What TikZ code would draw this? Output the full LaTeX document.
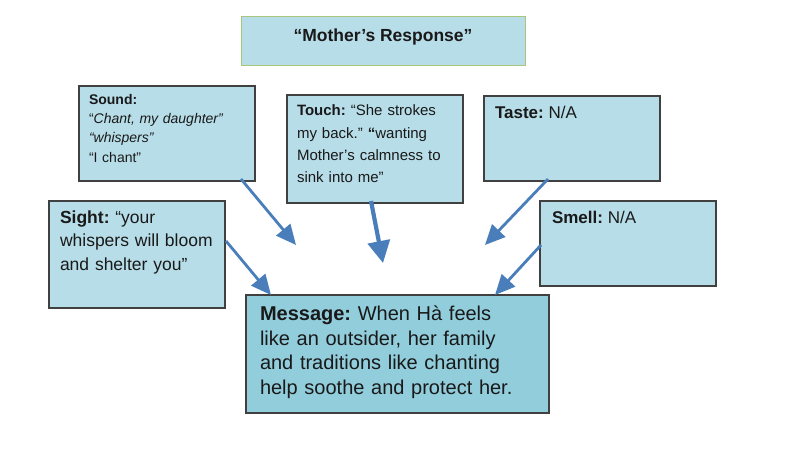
\documentclass[tikz,border=0pt]{standalone}
\usepackage{fontspec}
\setmainfont{Liberation Sans}
\usetikzlibrary{arrows.meta}
\definecolor{boxfill}{HTML}{B7DDE8}
\definecolor{msgfill}{HTML}{92CDDC}
\definecolor{boxline}{HTML}{404040}
\definecolor{titleline}{HTML}{A9C77A}
\definecolor{arrowblue}{HTML}{4A7EBB}
\tikzset{
  box/.style={draw=boxline, line width=1.3pt, fill=boxfill, rectangle, inner sep=0pt, outer sep=0pt, anchor=north west},
  txt/.style={anchor=north west, inner sep=0pt, outer sep=0pt, align=left, text=black!90},
  conn/.style={draw=arrowblue, line width=2.8pt, -{Triangle[length=20pt,width=18pt]}},
  connthick/.style={draw=arrowblue, line width=4.2pt, -{Triangle[length=22pt,width=22pt]}}
}
\begin{document}
\frenchspacing
\begin{tikzpicture}[x=1pt,y=-1pt]
\useasboundingbox (0,0) rectangle (794,457);
% title
\node[box, draw=titleline, line width=1pt, minimum width=284pt, minimum height=49pt] (title) at (241,17) {};
\node[anchor=base, inner sep=0pt, text=black!90, font=\fontsize{17.5}{21}\selectfont\bfseries] (titlet) at (383,42) {“Mother’s Response”};
% sound
\node[box, minimum width=176pt, minimum height=95pt] (sound) at (79,86) {};
\node[txt, text width=170pt, font=\fontsize{14}{19.3}\selectfont] (soundt) at (89,94)
  {\textbf{Sound:}\\“\textit{Chant, my daughter”}\\\textit{“whispers”}\\“I chant”};
% touch
\node[box, minimum width=176pt, minimum height=108pt] (touch) at (287,95) {};
\node[txt, text width=170pt, font=\fontsize{15}{22.3}\selectfont] (toucht) at (297,105)
  {\textbf{Touch:} “She strokes\\my back.” \textbf{“}wanting\\Mother’s calmness to\\sink into me”};
% taste
\node[box, minimum width=176pt, minimum height=85pt] (taste) at (484,96) {};
\node[txt, font=\fontsize{17}{21}\selectfont] (tastet) at (495,106) {\textbf{Taste:} N/A};
% sight
\node[box, minimum width=176pt, minimum height=107pt] (sight) at (49,201) {};
\node[txt, text width=170pt, font=\fontsize{17.5}{23.3}\selectfont] (sightt) at (60,211)
  {\textbf{Sight:} “your\\whispers will bloom\\and shelter you”};
% smell
\node[box, minimum width=176pt, minimum height=85pt] (smell) at (540,201) {};
\node[txt, font=\fontsize{17}{21}\selectfont] (smellt) at (552,211) {\textbf{Smell:} N/A};
% message
\node[box, fill=msgfill, minimum width=303pt, minimum height=118pt] (msg) at (246,295) {};
\node[txt, text width=290pt, font=\fontsize{20}{24.6}\selectfont] (msgt) at (260,306)
  {\textbf{Message:} When Hà feels\\like an outsider, her family\\and traditions like chanting\\help soothe and protect her.};
% arrow end points
\coordinate (e1) at (296,245);
\coordinate (e2) at (383,263);
\coordinate (e3) at (485,245);
% arrows
\draw[conn] (sound.south west) ++(162,-2) -- (e1);
\draw[connthick] (touch.south west) ++(84,-2) -- (e2);
\draw[conn] (taste.south west) ++(64,-2) -- (e3);
\draw[conn] (sight.north east) ++(1,40) -- (msg.north west -| 271,0);
\draw[conn] (smell.north west) ++(1,44) -- (msg.north west -| 495,0);
\end{tikzpicture}
\end{document}
